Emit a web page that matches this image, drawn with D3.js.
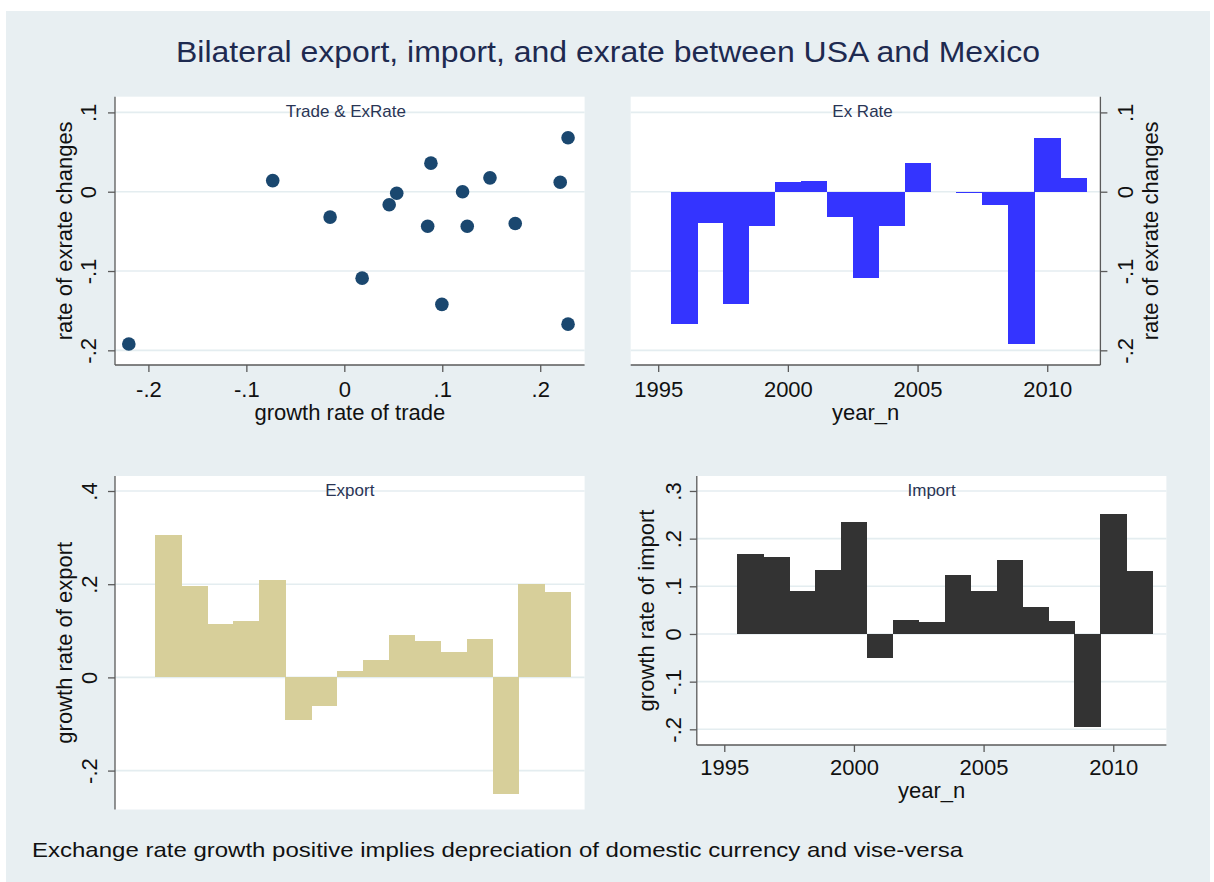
<!DOCTYPE html>
<html>
<head>
<meta charset="utf-8">
<script src="https://cdn.jsdelivr.net/npm/d3@7"></script>
<style>
  html, body { margin: 0; padding: 0; background: #ffffff; }
  text { font-family: "Liberation Sans", Arial, Helvetica, sans-serif; }
</style>
</head>
<body>
<svg id="chart" width="1214" height="882"></svg>
<script>
// ---------------- DATA ----------------
const years = [1996, 1997, 1998, 1999, 2000, 2001, 2002, 2003, 2004, 2005, 2006, 2007, 2008, 2009, 2010, 2011];
const exrateGrowth = [-0.167, -0.040, -0.142, -0.0435, 0.012, 0.014, -0.032, -0.109, -0.0435, 0.036, 0.0, -0.002, -0.0165, -0.192, 0.068, 0.0175];
const tradeGrowth = [0.2284, 0.1745, 0.0996, 0.1255, 0.2204, -0.0731, -0.0145, 0.0182, 0.0851, 0.0884, 0.1207, 0.0535, 0.0458, -0.2200, 0.2284, 0.1487];
const exportGrowth = [0.306, 0.196, 0.114, 0.120, 0.210, -0.092, -0.062, 0.014, 0.038, 0.090, 0.079, 0.055, 0.082, -0.250, 0.200, 0.183];
const importGrowth = [0.168, 0.161, 0.090, 0.135, 0.235, -0.051, 0.029, 0.026, 0.1245, 0.090, 0.155, 0.0566, 0.0266, -0.195, 0.2524, 0.1315];

const yearTicks = [1995, 2000, 2005, 2010];
const yearTickLabels = ["1995", "2000", "2005", "2010"];
const tradeTicks = [-0.2, -0.1, 0, 0.1, 0.2];
const tradeTickLabels = ["-.2", "-.1", "0", ".1", ".2"];
const exrateTicks = [-0.2, -0.1, 0, 0.1];
const exrateTickLabels = ["-.2", "-.1", "0", ".1"];
const exportTicks = [-0.2, 0, 0.2, 0.4];
const exportTickLabels = ["-.2", "0", ".2", ".4"];
const importTicks = [-0.2, -0.1, 0, 0.1, 0.2, 0.3];
const importTickLabels = ["-.2", "-.1", "0", ".1", ".2", ".3"];

const titleText = "Bilateral export, import, and exrate between USA and Mexico";
const noteText = "Exchange rate growth positive implies depreciation of domestic currency and vise-versa";

// ---------------- STYLE / LAYOUT ----------------
const BG = "#e8eff2", GRID = "#e4edf0", AXIS = "#5a5a5a", TXT = "#111111", NAVY = "#1e2a50";
const FONT_TICK = 22, FONT_TITLE_SUB = 17;

const svg = d3.select("#chart");
svg.append("rect").attr("x", 0).attr("y", 0).attr("width", 1214).attr("height", 882).attr("fill", "#ffffff");
svg.append("rect").attr("x", 6).attr("y", 11).attr("width", 1204).attr("height", 871).attr("fill", BG);

svg.append("text").attr("x", 608).attr("y", 62).attr("text-anchor", "middle")
  .attr("font-size", 29).attr("fill", NAVY)
  .attr("textLength", 864).attr("lengthAdjust", "spacingAndGlyphs")
  .text(titleText);

svg.append("text").attr("x", 32).attr("y", 857)
  .attr("font-size", 21).attr("fill", TXT)
  .attr("textLength", 931).attr("lengthAdjust", "spacingAndGlyphs")
  .text(noteText);

function panel(cfg) {
  const g = svg.append("g");
  const x = d3.scaleLinear().domain(cfg.xDomain).range([cfg.left, cfg.right]);
  const y = d3.scaleLinear().domain(cfg.yDomain).range([cfg.bottom, cfg.top]);
  g.append("rect").attr("x", cfg.left).attr("y", cfg.top)
    .attr("width", cfg.right - cfg.left).attr("height", cfg.bottom - cfg.top).attr("fill", "#ffffff");
  g.selectAll(".grid").data(cfg.yTicks).enter().append("line")
    .attr("x1", cfg.left).attr("x2", cfg.right)
    .attr("y1", d => y(d)).attr("y2", d => y(d))
    .attr("stroke", GRID).attr("stroke-width", 1.6);
  g.append("text").attr("x", (cfg.left + cfg.right) / 2 + (cfg.titleDx || 0)).attr("y", cfg.top + 20)
    .attr("text-anchor", "middle").attr("font-size", FONT_TITLE_SUB).attr("fill", "#2a3555")
    .text(cfg.title);
  return { g, x, y };
}

function yAxis(p, cfg, side, ticks, labels, labelX, title, titleX) {
  const axisX = side === "left" ? cfg.left : cfg.right;
  const ax = side === "left" ? d3.axisLeft(p.y) : d3.axisRight(p.y);
  ax.tickValues(ticks).tickFormat((d, i) => labels[i]).tickSizeOuter(0).tickSize(7);
  const ag = p.g.append("g").attr("transform", `translate(${axisX},0)`).call(ax);
  ag.select(".domain").attr("d", `M0,${cfg.top}V${cfg.bottom}`).attr("stroke", AXIS).attr("stroke-width", 1.3);
  ag.selectAll(".tick line").attr("stroke", AXIS).attr("stroke-width", 1.3);
  ag.selectAll(".tick text")
    .attr("font-size", FONT_TICK).attr("fill", TXT)
    .attr("x", null).attr("dy", null)
    .attr("text-anchor", "middle")
    .attr("transform", `translate(${labelX - axisX},0) rotate(-90)`);
  ag.attr("font-family", null);
  const cy = (cfg.top + cfg.bottom) / 2;
  p.g.append("text").attr("transform", `translate(${titleX},${cy}) rotate(-90)`)
    .attr("text-anchor", "middle").attr("font-size", FONT_TICK).attr("fill", TXT).text(title);
}

function xAxis(p, cfg, ticks, labels, labelBaseline, title, titleBaseline) {
  const ax = d3.axisBottom(p.x).tickValues(ticks).tickFormat((d, i) => labels[i]).tickSizeOuter(0).tickSize(7);
  const ag = p.g.append("g").attr("transform", `translate(0,${cfg.bottom})`).call(ax);
  ag.select(".domain").attr("d", `M${cfg.left},0H${cfg.right}`).attr("stroke", AXIS).attr("stroke-width", 1.3);
  ag.selectAll(".tick line").attr("stroke", AXIS).attr("stroke-width", 1.3);
  ag.selectAll(".tick text").attr("font-size", FONT_TICK).attr("fill", TXT)
    .attr("y", labelBaseline - cfg.bottom).attr("dy", null);
  ag.attr("font-family", null);
  p.g.append("text").attr("x", (cfg.left + cfg.right) / 2).attr("y", titleBaseline)
    .attr("text-anchor", "middle").attr("font-size", FONT_TICK).attr("fill", TXT).text(title);
}

function bars(p, values, color) {
  p.g.selectAll(".bar").data(years).enter().append("rect")
    .attr("x", (d) => p.x(d - 0.5))
    .attr("width", (d) => p.x(d + 0.5) - p.x(d - 0.5) + 0.5)
    .attr("y", (d, i) => p.y(Math.max(0, values[i])))
    .attr("height", (d, i) => Math.abs(p.y(values[i]) - p.y(0)))
    .attr("fill", color)
    .attr("shape-rendering", "crispEdges");
}

// ---------- Panel 1: scatter ----------
const c1 = { left: 115, right: 584.6, top: 96.7, bottom: 365, xDomain: [-0.2341, 0.2453], yDomain: [-0.2185, 0.1198], yTicks: exrateTicks, title: "Trade & ExRate", titleDx: -4 };
const p1 = panel(c1);
p1.g.selectAll(".dot").data(years).enter().append("circle")
  .attr("cx", (d, i) => p1.x(tradeGrowth[i]))
  .attr("cy", (d, i) => p1.y(exrateGrowth[i]))
  .attr("r", 6.8).attr("fill", "#1a476f");
yAxis(p1, c1, "left", exrateTicks, exrateTickLabels, 96, "rate of exrate changes", 72);
xAxis(p1, c1, tradeTicks, tradeTickLabels, 397, "growth rate of trade", 420);

// ---------- Panel 2: Ex Rate bars ----------
const c2 = { left: 630.7, right: 1100.4, top: 96.7, bottom: 365, xDomain: [1993.94, 2012.05], yDomain: [-0.2185, 0.1198], yTicks: exrateTicks, title: "Ex Rate", titleDx: -3 };
const p2 = panel(c2);
bars(p2, exrateGrowth, "#3434ff");
yAxis(p2, c2, "right", exrateTicks, exrateTickLabels, 1133, "rate of exrate changes", 1158);
xAxis(p2, c2, yearTicks, yearTickLabels, 397, "year_n", 420);

// ---------- Panel 3: Export bars ----------
const c3 = { left: 115, right: 584.6, top: 476, bottom: 809.5, xDomain: [1993.94, 2012.05], yDomain: [-0.2835, 0.4322], yTicks: exportTicks, title: "Export" };
const p3 = panel(c3);
bars(p3, exportGrowth, "#d7cf9a");
yAxis(p3, c3, "left", exportTicks, exportTickLabels, 97, "growth rate of export", 72);

// ---------- Panel 4: Import bars ----------
const c4 = { left: 696.8, right: 1166.4, top: 476, bottom: 745, xDomain: [1993.94, 2012.05], yDomain: [-0.2329, 0.3314], yTicks: importTicks, title: "Import" };
const p4 = panel(c4);
bars(p4, importGrowth, "#333333");
yAxis(p4, c4, "left", importTicks, importTickLabels, 681, "growth rate of import", 654);
xAxis(p4, c4, yearTicks, yearTickLabels, 775, "year_n", 798);
</script>
</body>
</html>
